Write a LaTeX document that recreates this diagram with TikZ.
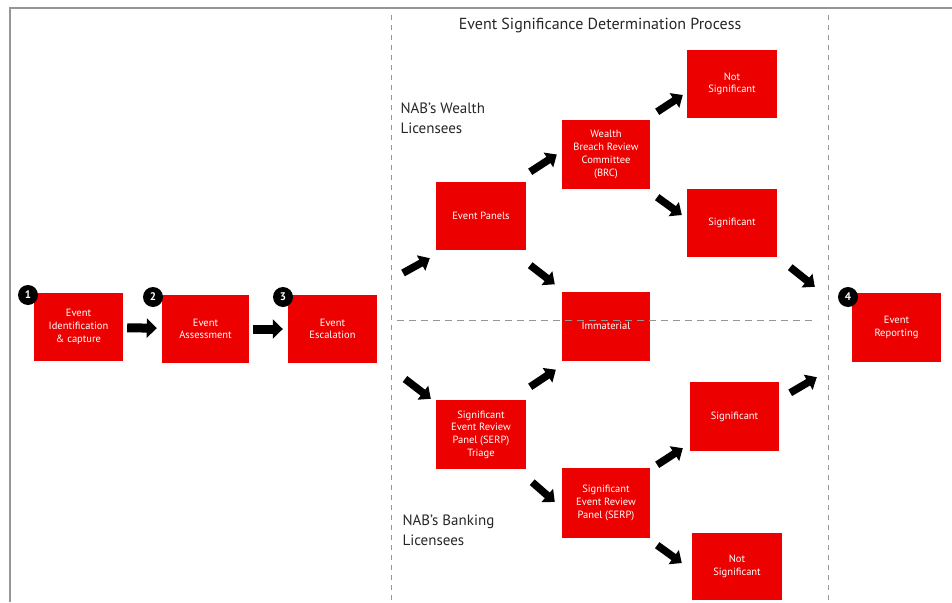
\documentclass[tikz,border=0pt]{standalone}
\usepackage{fontspec}
\setmainfont{PT Sans}
\usetikzlibrary{arrows.meta}
\definecolor{nabred}{RGB}{236,0,0}
\definecolor{framegray}{RGB}{150,150,150}
\tikzset{
  redbox/.style={fill=nabred, text=white, align=center, inner sep=1pt,
    font=\fontsize{10.5}{12.7}\selectfont},
  numdot/.style={circle, fill=black, text=white, minimum size=20pt, inner sep=0pt,
    font=\fontsize{11}{11}\selectfont\bfseries},
  bigarrow/.style={line width=9pt, black, -{Triangle[width=19pt,length=10pt]}},
  diagarrow/.style={line width=7.5pt, black, -{Triangle[width=17pt,length=10pt]}},
  vdash/.style={framegray, line width=0.8pt, dash pattern=on 5pt off 5pt},
  hdash/.style={framegray, line width=1pt, dash pattern=on 7pt off 5pt},
  lbl/.style={align=left, font=\fontsize{15}{20}\selectfont, text=black!85},
}
\begin{document}
\begin{tikzpicture}[x=1pt,y=-1pt]
\useasboundingbox (0,0) rectangle (952,602);
% frame
\draw[framegray, line width=1.6pt] (952,8) -- (10,8) -- (10,602);
% dashed dividers
\draw[vdash] (391,15) -- (391,602);
\draw[vdash] (828,15) -- (828,602);
% title
\node[font=\fontsize{16}{18}\selectfont, text=black!85] (title) at (600,26) {Event Significance Determination Process};
\node[lbl, anchor=west] (wealth) at (397,118) {NAB's Wealth\\Licensees};
\node[lbl, anchor=west] (banking) at (399,530) {NAB's Banking\\Licensees};
% main flow boxes
\node[redbox, minimum width=89pt, minimum height=68pt] (b1) at (78.5,327) {Event\\Identification\\\& capture};
\node[redbox, minimum width=87pt, minimum height=68pt] (b2) at (205.5,329) {Event\\Assessment};
\node[redbox, minimum width=89pt, minimum height=68pt] (b3) at (332.5,329) {Event\\Escalation};
\node[redbox, minimum width=89pt, minimum height=69pt] (rep) at (896.5,327.5) {Event\\Reporting};
% wealth branch
\node[redbox, minimum width=90pt, minimum height=68pt] (ep) at (481,216) {Event Panels};
\node[redbox, minimum width=88pt, minimum height=69pt] (brc) at (606,154.5) {Wealth\\Breach Review\\Committee\\(BRC)};
\node[redbox, minimum width=90pt, minimum height=68pt] (ns1) at (732,84) {Not\\Significant};
\node[redbox, minimum width=90pt, minimum height=68pt] (sg1) at (732,223) {Significant};
\node[redbox, minimum width=88pt, minimum height=69pt] (imm) at (606,326) {Immaterial};
% banking branch
\node[redbox, minimum width=90pt, minimum height=69pt] (tri) at (481,434.5) {Significant\\Event Review\\Panel (SERP)\\Triage};
\node[redbox, minimum width=88pt, minimum height=70pt] (serp) at (606,503) {Significant\\Event Review\\Panel (SERP)};
\node[redbox, minimum width=89pt, minimum height=69pt] (sg2) at (734.5,416.5) {Significant};
\node[redbox, minimum width=90pt, minimum height=67pt] (ns2) at (737,566.5) {Not\\Significant};
% horizontal divider (over Immaterial)
\draw[hdash] (397,320) -- (817,320);
% number markers
\node[numdot] (n1) at (28,295) {1};
\node[numdot] (n2) at (153,297) {2};
\node[numdot] (n3) at (283,297) {3};
\node[numdot] (n4) at (848,297) {4};
% main arrows
\draw[bigarrow, shorten <=4pt, shorten >=5pt] (b1) -- (b2);
\draw[bigarrow, shorten <=4pt, shorten >=5pt] (b2) -- (b3);
% free starts
\coordinate (w0) at (403,273);
\coordinate (k0) at (405,379);
% wealth arrows
\draw[diagarrow] (w0) -- ([shift={(-6,8)}]ep.south west);
\draw[diagarrow] ([shift={(4,-10)}]ep.north east) -- ([shift={(-5,0)}]brc.west);
\draw[diagarrow] ([shift={(7,-8)}]brc.north east) -- ([shift={(-4,11)}]ns1.west);
\draw[diagarrow] ([shift={(7,8)}]brc.south east) -- ([shift={(-5,-8)}]sg1.west);
\draw[diagarrow] ([shift={(4,15)}]ep.south east) -- ([shift={(-7,-7)}]imm.north west);
\draw[diagarrow] ([shift={(13,10)}]sg1.south east) -- ([shift={(-37,-6)}]rep.north west);
% banking arrows
\draw[diagarrow] (k0) -- ([shift={(-5,-1)}]tri.north west);
\draw[diagarrow] ([shift={(4,-13)}]tri.north east) -- ([shift={(-6,9)}]imm.south west);
\draw[diagarrow] ([shift={(11,11)}]sg2.north east) -- ([shift={(-35,15)}]rep.south west);
\draw[diagarrow] ([shift={(6,13)}]tri.south east) -- ([shift={(-7,-1)}]serp.west);
\draw[diagarrow] ([shift={(7,-3)}]serp.north east) -- ([shift={(-7,-3)}]sg2.south west);
\draw[diagarrow] ([shift={(7,7)}]serp.south east) -- ([shift={(-10,-3.5)}]ns2.west);
\end{tikzpicture}
\end{document}
